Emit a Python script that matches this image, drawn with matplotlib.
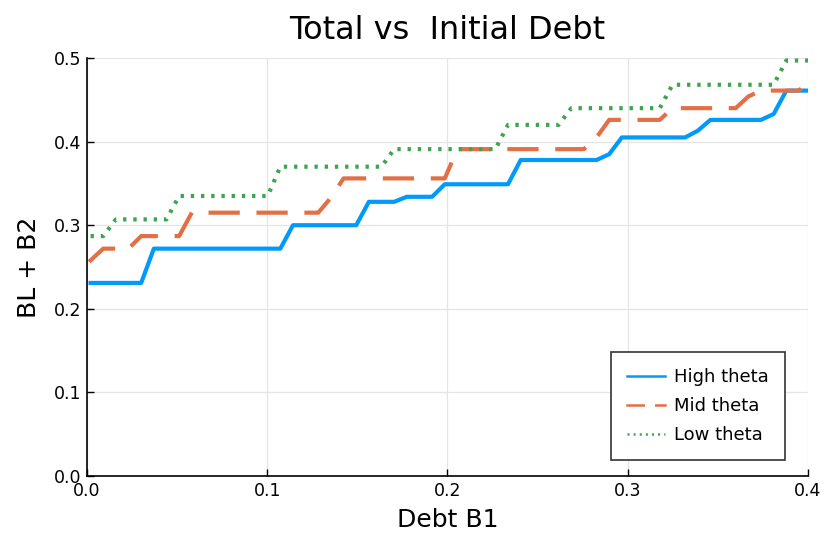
import numpy as np
import matplotlib
matplotlib.use("Agg")
import matplotlib.pyplot as plt

# Initial debt grid (58 evenly spaced points, step 0.4/57)
debt_b1 = np.linspace(0.002, 0.402, 58)

high_theta = [
    0.231, 0.231, 0.231, 0.231, 0.231,
    0.272, 0.272, 0.272, 0.272, 0.272, 0.272, 0.272, 0.272, 0.272, 0.272, 0.272,
    0.300, 0.300, 0.300, 0.300, 0.300, 0.300,
    0.328, 0.328, 0.328,
    0.334, 0.334, 0.334,
    0.349, 0.349, 0.349, 0.349, 0.349, 0.349,
    0.378, 0.378, 0.378, 0.378, 0.378, 0.378, 0.378,
    0.385,
    0.405, 0.405, 0.405, 0.405, 0.405, 0.405,
    0.413,
    0.426, 0.426, 0.426, 0.426, 0.426,
    0.433,
    0.461, 0.461, 0.461,
]

mid_theta = [
    0.258,
    0.272, 0.272, 0.272,
    0.287, 0.287, 0.287, 0.287,
    0.315, 0.315, 0.315, 0.315, 0.315, 0.315, 0.315, 0.315, 0.315, 0.315, 0.315,
    0.333,
    0.356, 0.356, 0.356, 0.356, 0.356, 0.356, 0.356, 0.356, 0.356,
    0.391, 0.391, 0.391, 0.391, 0.391, 0.391, 0.391, 0.391, 0.391, 0.391, 0.391,
    0.405,
    0.426, 0.426, 0.426, 0.426, 0.426,
    0.440, 0.440, 0.440, 0.440, 0.440, 0.440,
    0.454,
    0.461, 0.461, 0.461, 0.461,
    0.475,
]

low_theta = [
    0.287, 0.287,
    0.307, 0.307, 0.307, 0.307, 0.307,
    0.335, 0.335, 0.335, 0.335, 0.335, 0.335, 0.335, 0.335,
    0.370, 0.370, 0.370, 0.370, 0.370, 0.370, 0.370, 0.370, 0.370,
    0.391, 0.391, 0.391, 0.391, 0.391, 0.391, 0.391, 0.391, 0.391,
    0.420, 0.420, 0.420, 0.420, 0.420,
    0.440, 0.440, 0.440, 0.440, 0.440, 0.440, 0.440, 0.440,
    0.468, 0.468, 0.468, 0.468, 0.468, 0.468, 0.468, 0.468, 0.468,
    0.497, 0.497, 0.497,
]

series_labels = ["High theta", "Mid theta", "Low theta"]
x_ticks = [0.0, 0.1, 0.2, 0.3, 0.4]
y_ticks = [0.0, 0.1, 0.2, 0.3, 0.4, 0.5]

plt.rcParams["font.family"] = ["DejaVu Sans"]

fig = plt.figure(figsize=(8.26, 5.41), dpi=100)
ax = fig.add_axes([0.1053, 0.12, 0.8729, 0.7728])

ax.plot(debt_b1, high_theta, color="#009AFA", lw=3, label=series_labels[0],
        solid_capstyle="projecting")
ax.plot(debt_b1, mid_theta, color="#E36F47", lw=3, label=series_labels[1],
        dashes=(6.5, 5), dash_capstyle="projecting")
ax.plot(debt_b1, low_theta, color="#3EA44E", lw=3, label=series_labels[2],
        dashes=(0.8, 1.65))

ax.set_xlim(0.0, 0.4)
ax.set_ylim(0.0, 0.5)
ax.set_xticks(x_ticks)
ax.set_yticks(y_ticks)
ax.set_xticklabels([f"{v:.1f}" for v in x_ticks])
ax.set_yticklabels([f"{v:.1f}" for v in y_ticks])

ax.grid(True, color="#e5e5e5", lw=0.9)
ax.set_axisbelow(True)
for side in ("top", "right"):
    ax.spines[side].set_visible(False)
for side in ("left", "bottom"):
    ax.spines[side].set_color("black")
    ax.spines[side].set_linewidth(1.2)
    ax.spines[side].set_zorder(3)
ax.tick_params(direction="in", length=5, width=1, colors="black",
               labelsize=12.5, pad=4)

ax.set_title("Total vs  Initial Debt", fontsize=23, pad=14)
ax.set_xlabel("Debt B1", fontsize=18, labelpad=6)
ax.set_ylabel("BL + B2", fontsize=18, labelpad=9)

leg = ax.legend(loc="lower right", bbox_to_anchor=(0.968, 0.038),
                borderaxespad=0.0, fontsize=13, fancybox=False,
                framealpha=1.0, edgecolor="#333333", handlelength=2.1,
                borderpad=0.9, labelspacing=0.6, handletextpad=0.5)
leg.get_frame().set_linewidth(1.2)
for line in leg.get_lines():
    line.set_linewidth(1.8)

fig.savefig("out.png", dpi=100)
